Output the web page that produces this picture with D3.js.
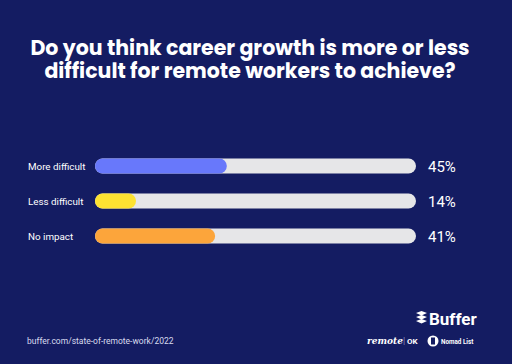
<!DOCTYPE html>
<html>
<head>
<meta charset="utf-8">
<script src="https://cdn.jsdelivr.net/npm/d3@7"></script>
<style>
  html, body { margin: 0; padding: 0; background: #141c62; }
  svg { display: block; }
</style>
</head>
<body>
<div id="chart"></div>
<script>
// Survey question: career growth for remote workers
const titleLines = ['Do you think career growth is more or less', 'difficult for remote workers to achieve?'];
const categories = ['More difficult', 'Less difficult', 'No impact'];
const values = [45, 14, 41];
const barColors = ['#6878fb', '#fde232', '#fca53b'];
const sourceText = 'buffer.com/state-of-remote-work/2022';

const width = 512, height = 364;

const svg = d3.select('#chart').append('svg')
  .attr('width', width)
  .attr('height', height);

svg.append('rect')
  .attr('width', width)
  .attr('height', height)
  .attr('fill', '#141c62');

// Title, one text block with a line per tspan
svg.append('text')
  .attr('text-anchor', 'middle')
  .style('font-family', 'Poppins, "Open Sans", sans-serif')
  .style('font-weight', 700)
  .style('font-size', '20.5px')
  .style('fill', '#ffffff')
  .selectAll('tspan')
  .data(titleLines)
  .enter().append('tspan')
  .attr('x', width / 2 - 6)
  .attr('y', (d, i) => 55 + i * 23)
  .text(d => d);

// Scales
const trackLeft = 95, trackRight = 416;
const x = d3.scaleLinear()
  .domain([0, 100])
  .range([trackLeft, trackLeft + 293]);

const y = d3.scalePoint()
  .domain(categories)
  .range([166, 236]);

const barH = 15;

const rows = svg.append('g')
  .selectAll('.row')
  .data(categories.map((c, i) => ({ cat: c, value: values[i], color: barColors[i] })))
  .enter().append('g')
  .attr('class', 'row')
  .attr('transform', d => `translate(0, ${y(d.cat)})`);

rows.append('rect')
  .attr('x', trackLeft)
  .attr('y', -barH / 2)
  .attr('width', trackRight - trackLeft)
  .attr('height', barH)
  .attr('rx', barH / 2)
  .attr('fill', '#e6e6e8');

rows.append('rect')
  .attr('x', trackLeft)
  .attr('y', -barH / 2)
  .attr('width', d => x(d.value) - trackLeft)
  .attr('height', barH)
  .attr('rx', barH / 2)
  .attr('fill', d => d.color);

rows.append('text')
  .attr('x', 28)
  .attr('y', 4)
  .style('font-family', 'Roboto, sans-serif')
  .style('font-size', '9.8px')
  .style('fill', '#ffffff')
  .text(d => d.cat);

rows.append('text')
  .attr('x', 428)
  .attr('y', 5.5)
  .style('font-family', 'Roboto, sans-serif')
  .style('font-size', '15px')
  .style('fill', '#ffffff')
  .text(d => d.value + '%');

// Footer
svg.append('text')
  .attr('x', 27)
  .attr('y', 344)
  .style('font-family', 'Roboto, sans-serif')
  .style('font-size', '8.5px')
  .style('fill', '#d8dbee')
  .text(sourceText);

// Buffer logo
const logo = svg.append('g').attr('transform', 'translate(416, 311)');
[0, 4, 8].forEach(dy => {
  logo.append('path')
    .attr('d', `M0,${dy + 2} L5.5,${dy} L11,${dy + 2} L5.5,${dy + 4.5} Z`)
    .attr('fill', '#ffffff');
});
svg.append('text')
  .attr('x', 429)
  .attr('y', 325)
  .style('font-family', 'Roboto, sans-serif')
  .style('font-weight', 700)
  .style('font-size', '17px')
  .style('fill', '#ffffff')
  .text('Buffer');

// Partner logos
svg.append('text')
  .attr('x', 367)
  .attr('y', 344)
  .style('font-family', '"DejaVu Serif", serif')
  .style('font-style', 'italic')
  .style('font-weight', 700)
  .style('font-size', '9px')
  .style('fill', '#ffffff')
  .text('remote');
svg.append('text')
  .attr('x', 403)
  .attr('y', 344)
  .style('font-family', 'Roboto, sans-serif')
  .style('font-size', '9px')
  .style('fill', '#8a90c0')
  .text('|');
svg.append('text')
  .attr('x', 407)
  .attr('y', 344)
  .style('font-family', 'Roboto, sans-serif')
  .style('font-weight', 700)
  .style('font-size', '8px')
  .style('fill', '#ffffff')
  .text('OK');
svg.append('circle')
  .attr('cx', 433)
  .attr('cy', 341)
  .attr('r', 5.5)
  .attr('fill', '#ffffff');
svg.append('rect')
  .attr('x', 431)
  .attr('y', 337.5)
  .attr('width', 4)
  .attr('height', 7)
  .attr('fill', '#141c62');
svg.append('text')
  .attr('x', 441)
  .attr('y', 343.5)
  .style('font-family', 'Roboto, sans-serif')
  .style('font-weight', 700)
  .style('font-size', '6.3px')
  .style('fill', '#ffffff')
  .text('Nomad List');
</script>
</body>
</html>
